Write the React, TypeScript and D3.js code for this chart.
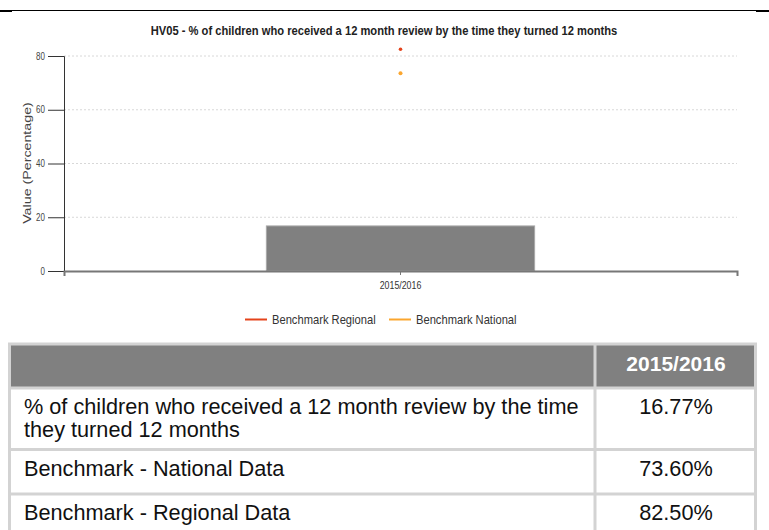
import * as d3 from 'd3'
import { useEffect, useRef } from 'react'

const title = 'HV05 - % of children who received a 12 month review by the time they turned 12 months'
const periods = ['2015/2016']
const indicatorValues = [16.77]
const regionalValues = [82.5]
const nationalValues = [73.6]
const yTicks = [0, 20, 40, 60, 80]
const legendItems = ['Benchmark Regional', 'Benchmark National']
const rowLabels = [
  ['% of children who received a 12 month review by the time', 'they turned 12 months'],
  ['Benchmark - National Data'],
  ['Benchmark - Regional Data'],
]
const rowValues = ['16.77%', '73.60%', '82.50%']

const W = 769
const H = 530
const margin = { top: 56, right: 32, bottom: 259, left: 64 }
const innerW = W - margin.left - margin.right
const innerH = H - margin.top - margin.bottom

const sans = '"Liberation Sans", Arial, sans-serif'
const red = '#e4431b'
const orange = '#fba62f'

// narrow text: the original uses a condensed face, so squeeze regular sans
function narrowText(parent: any, x: number, y: number, s: number, size: number, str: string, anchor = 'start') {
  return parent.append('text')
    .attr('transform', `translate(${x},${y}) scale(${s},1)`)
    .attr('text-anchor', anchor)
    .style('font-family', sans).style('font-size', `${size}px`)
    .text(str)
}

export default function App() {
  const ref = useRef<SVGSVGElement>(null)

  useEffect(() => {
    const svg = d3.select(ref.current)
    svg.selectAll('*').remove()

    // top rule
    svg.append('line').attr('x1', 0).attr('x2', W).attr('y1', 10.5).attr('y2', 10.5)
      .attr('stroke', '#000').attr('stroke-width', 1)
    svg.append('rect').attr('x', 0).attr('y', 10).attr('width', 12).attr('height', 2).attr('fill', '#000')
    svg.append('rect').attr('x', 756).attr('y', 10).attr('width', 13).attr('height', 2).attr('fill', '#000')

    narrowText(svg, 384, 35, 0.86, 13, title, 'middle')
      .style('font-weight', 'bold').attr('fill', '#222')

    const g = svg.append('g').attr('transform', `translate(${margin.left},${margin.top})`)

    const y = d3.scaleLinear().domain([0, 80]).range([innerH, 0])
    const x = d3.scaleBand().domain(periods).range([0, innerW]).padding(0.43)

    // grid
    g.selectAll('.grid').data(yTicks.slice(1)).enter().append('line')
      .attr('x1', 0).attr('x2', innerW)
      .attr('y1', (d) => y(d)).attr('y2', (d) => y(d))
      .attr('stroke', '#d8d8d8').attr('stroke-dasharray', '2,2')

    // bars
    g.selectAll('.bar').data(indicatorValues).enter().append('rect')
      .attr('x', (_, i) => x(periods[i]) as number)
      .attr('y', (d) => y(d))
      .attr('width', x.bandwidth())
      .attr('height', (d) => innerH - y(d))
      .attr('fill', '#808080').attr('stroke', '#a8a8a8').attr('stroke-width', 1)

    // y axis
    const ys = 0.8
    const yAxis = g.append('g').call(d3.axisLeft(y).tickValues(yTicks).tickSize(16).tickPadding(3))
    yAxis.select('.domain').attr('stroke', '#333')
    yAxis.selectAll('.tick line').attr('stroke', '#333')
    yAxis.selectAll('text')
      .attr('x', -19 / ys).attr('transform', `scale(${ys},1)`)
      .style('font-family', sans).style('font-size', '10px').attr('fill', '#444')

    // x axis
    const xs = 0.8
    const xAxis = g.append('g').attr('transform', `translate(0,${innerH})`)
      .call(d3.axisBottom(x).tickSize(4).tickSizeOuter(5).tickPadding(6))
    xAxis.select('.domain').attr('stroke', '#777').attr('stroke-width', 2)
    xAxis.selectAll('.tick line').attr('stroke', '#777')
    xAxis.selectAll('text')
      .attr('transform', `scale(${xs},1)`)
      .style('font-family', sans).style('font-size', '11px').attr('fill', '#333')

    // benchmark points
    const cx = (i: number) => (x(periods[i]) as number) + x.bandwidth() / 2
    g.selectAll('.reg').data(regionalValues).enter().append('circle')
      .attr('cx', (_, i) => cx(i)).attr('cy', (d) => y(d)).attr('r', 1.8).attr('fill', red)
    g.selectAll('.nat').data(nationalValues).enter().append('circle')
      .attr('cx', (_, i) => cx(i)).attr('cy', (d) => y(d)).attr('r', 2).attr('fill', orange)

    // y label (rotated, so it reads stretched along its length)
    svg.append('text')
      .attr('transform', 'translate(31,163) rotate(-90) scale(1.24,1)')
      .attr('text-anchor', 'middle')
      .style('font-family', sans).style('font-size', '11.5px')
      .attr('fill', '#444')
      .text('Value (Percentage)')

    // legend
    const legendX = [245, 389]
    const legendColors = [red, orange]
    legendItems.forEach((name, i) => {
      svg.append('line').attr('x1', legendX[i]).attr('x2', legendX[i] + 22)
        .attr('y1', 319.5).attr('y2', 319.5).attr('stroke', legendColors[i]).attr('stroke-width', 2)
      narrowText(svg, legendX[i] + 27, 324, 0.86, 13, name).attr('fill', '#333')
    })

    // table
    const border = '#d3d3d3'
    const tx0 = 8, tx1 = 595, tx2 = 757
    const rowEdges = [344, 388, 449.5, 494, 540]
    const t = svg.append('g')
    t.append('rect').attr('x', tx0).attr('y', rowEdges[0]).attr('width', tx2 - tx0).attr('height', rowEdges[1] - rowEdges[0])
      .attr('fill', '#808080')
    rowEdges.slice(0, 4).forEach((ry) => {
      t.append('line').attr('x1', tx0).attr('x2', tx2).attr('y1', ry).attr('y2', ry)
        .attr('stroke', border).attr('stroke-width', 3)
    })
    ;[tx0 + 1.5, tx1, tx2 - 1.5].forEach((vx) => {
      t.append('line').attr('x1', vx).attr('x2', vx).attr('y1', rowEdges[0]).attr('y2', H)
        .attr('stroke', border).attr('stroke-width', 3)
    })
    t.append('text').attr('x', 676).attr('y', 371)
      .attr('text-anchor', 'middle')
      .style('font-family', sans).style('font-weight', 'bold').style('font-size', '21px')
      .attr('fill', '#fff')
      .text(periods[0])

    rowLabels.forEach((lines, i) => {
      const top = rowEdges[i + 1]
      lines.forEach((ln, j) => {
        t.append('text').attr('x', 24).attr('y', top + 26 + j * 23)
          .style('font-family', sans).style('font-size', '21.7px').attr('fill', '#111')
          .text(ln)
      })
      t.append('text').attr('x', 676).attr('y', top + 26)
        .attr('text-anchor', 'middle')
        .style('font-family', sans).style('font-size', '21.7px').attr('fill', '#111')
        .text(rowValues[i])
    })
  }, [])

  return (
    <svg
      ref={ref}
      width={W}
      height={H}
      style={{ position: 'absolute', left: 0, top: 0, background: '#fff' }}
    />
  )
}
